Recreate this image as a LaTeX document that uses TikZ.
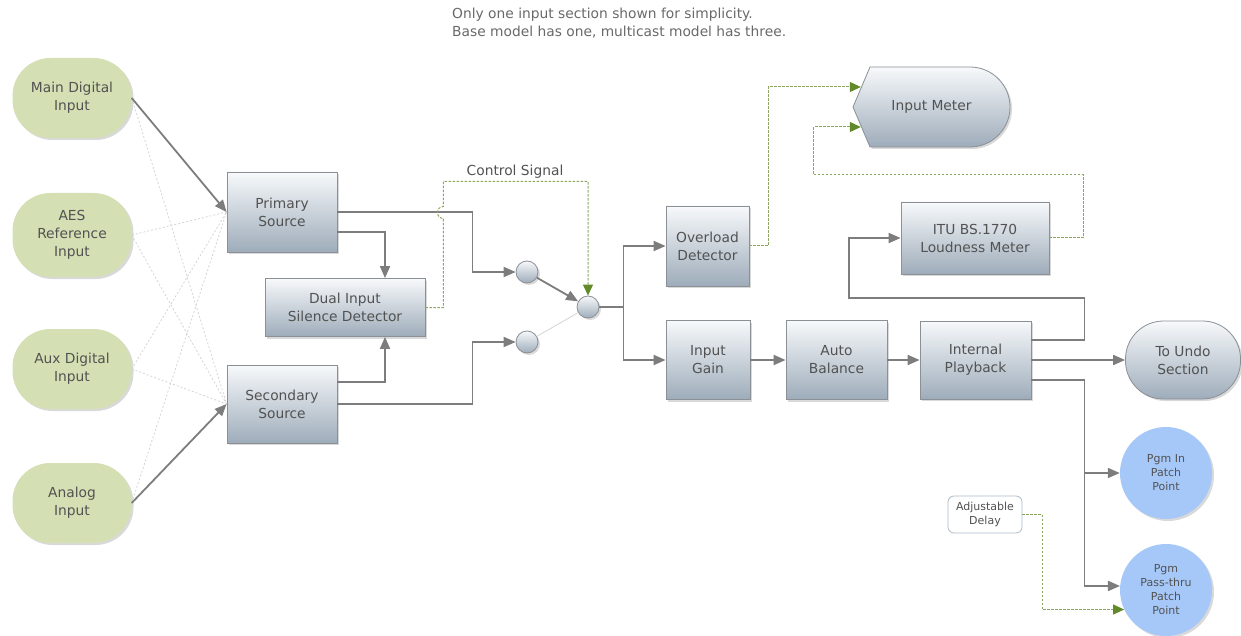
\documentclass[tikz,border=0pt]{standalone}
\usepackage{fontspec}
\setmainfont{DejaVu Sans}
\usetikzlibrary{arrows.meta,shadows,calc}
\definecolor{boxtop}{RGB}{247,249,251}
\definecolor{boxbot}{RGB}{158,172,186}
\definecolor{boxline}{RGB}{138,144,150}
\definecolor{inpgreen}{RGB}{212,224,180}
\definecolor{pinblue}{RGB}{166,200,248}
\definecolor{conn}{RGB}{125,125,125}
\definecolor{ctrl}{RGB}{140,166,96}
\definecolor{ctrltip}{RGB}{98,138,40}
\definecolor{txt}{RGB}{82,82,82}
\definecolor{notetxt}{RGB}{105,105,105}
\definecolor{faint}{RGB}{212,212,212}
\definecolor{dlyline}{RGB}{172,188,202}
\tikzset{
  base/.style={font=\fontsize{13.8}{18}\selectfont, text=txt, align=center, inner sep=0pt},
  shad/.style={drop shadow={shadow xshift=2pt,shadow yshift=-2pt,opacity=0.3}},
  blk/.style={base, rectangle, draw=boxline, line width=0.8pt, top color=boxtop, bottom color=boxbot, shad},
  inp/.style={base, rectangle, rounded corners=38pt, fill=inpgreen, minimum width=119pt, minimum height=80pt, shad},
  sw/.style={circle, draw=boxline, line width=0.8pt, top color=boxtop, bottom color=boxbot, minimum size=22pt, inner sep=0pt, shad},
  pinpt/.style={base, circle, fill=pinblue, minimum size=92pt, font=\fontsize{11}{14}\selectfont, shad},
  dly/.style={base, rectangle, rounded corners=6pt, draw=dlyline, line width=0.8pt, fill=white, minimum width=74pt, minimum height=37pt, font=\fontsize{11}{13.5}\selectfont},
  flow/.style={draw=conn, line width=1.8pt, -{Triangle[length=12pt,width=10pt]}},
  ctl/.style={draw=ctrl, line width=1pt, dash pattern=on 2.5pt off 1.5pt, -{Triangle[length=11pt,width=10pt,color=ctrltip]}},
  faintline/.style={draw=faint, line width=0.8pt, dash pattern=on 2pt off 2pt},
}
\begin{document}
\begin{tikzpicture}[x=1pt,y=-1pt]
\useasboundingbox (0,0) rectangle (1241,636);

% note
\node[base, text=notetxt, anchor=west, align=left] (note) at (452,23) {Only one input section shown for simplicity.\\Base model has one, multicast model has three.};

% inputs
\node[inp] (mdi) at (72,98) {Main Digital\\Input};
\node[inp, minimum height=84pt] (aes) at (72,235) {AES\\Reference\\Input};
\node[inp] (aux) at (72,369) {Aux Digital\\Input};
\node[inp] (ana) at (72,503) {Analog\\Input};

% sources
\node[blk, minimum width=110pt, minimum height=80pt] (ps) at (282,212) {Primary\\Source};
\node[blk, minimum width=160pt, minimum height=58pt] (dual) at (345,307.5) {Dual Input\\Silence Detector};
\node[blk, minimum width=110pt, minimum height=78pt] (ss) at (282,404) {Secondary\\Source};

% switch circles
\node[sw] (c1) at (527,272) {};
\node[sw] (c2) at (527,342) {};
\node[sw] (c3) at (588,307) {};

\node[base] (cs) at (515,172) {Control Signal};

% processing chain
\node[blk, minimum width=83pt, minimum height=80pt] (od) at (707.5,246) {Overload\\Detector};
\node[blk, minimum width=84pt, minimum height=79pt] (ig) at (708,360) {Input\\Gain};
\node[blk, minimum width=101pt, minimum height=79pt] (ab) at (836.5,360) {Auto\\Balance};
\node[blk, minimum width=111pt, minimum height=78pt] (ip) at (975.5,360) {Internal\\Playback};
\node[blk, rounded corners=38pt, minimum width=115pt, minimum height=78pt] (undo) at (1183,360) {To Undo\\Section};
\node[blk, minimum width=148pt, minimum height=72pt] (itu) at (975,238) {ITU BS.1770\\Loudness Meter};

% input meter
\path[draw=boxline, line width=0.8pt, top color=boxtop, bottom color=boxbot, shad]
  (870,67) -- (970,67) arc[start angle=-90,end angle=90,radius=40] -- (870,147) -- (853,107) -- cycle;
\node[base, minimum width=157pt, minimum height=80pt] (im) at (931.5,107) {Input Meter};

% patch points
\node[pinpt] (pin) at (1166,473) {Pgm In\\Patch\\Point};
\node[pinpt] (pass) at (1166,590) {Pgm\\Pass-thru\\Patch\\Point};
\node[dly] (ad) at (985,514.5) {Adjustable\\Delay};

% input connectors
\draw[faintline] (mdi.east) -- (ss.west);
\draw[faintline] (aes.east) -- (ps.west);
\draw[faintline] (aes.east) -- (ss.west);
\draw[faintline] (aux.east) -- (ps.west);
\draw[faintline] (aux.east) -- (ss.west);
\draw[faintline] (ana.east) -- (ps.west);
\draw[flow] (mdi.east) -- (ps.west);
\draw[flow] (ana.east) -- (ss.west);

% sources to switch
\draw[flow] (ps.east) -- ++(135,0) |- (c1.west);
\draw[flow] ($(ps.east)+(0,20)$) -| ($(dual.north)+(40,0)$);
\draw[flow] ($(ss.east)+(0,-22)$) -| ($(dual.south)+(40,0)$);
\draw[flow] (ss.east) -- ++(135,0) |- (c2.west);
\draw[flow] (c1) -- (c3);
\draw[draw=faint, line width=0.8pt] (c2) -- (c3);

% control signal
\draw[ctl] (dual.east) -- ++(18,0) -- ++(0,-89) arc[start angle=90,end angle=270,radius=6] -- ++(0,-25) -| (c3.north);

% after switch
\draw[flow] (c3.east) -- ++(24,0) |- (od.west);
\draw[flow] (c3.east) -- ++(24,0) |- (ig.west);
\draw[flow] (ig) -- (ab);
\draw[flow] (ab) -- (ip);
\draw[flow] (ip) -- (undo);

% loudness loop
\draw[flow] ($(ip.east)+(0,-20)$) -- ++(53,0) |- ($(itu.west)+(-52,60)$) |- (itu.west);

% patch outputs
\draw[flow] ($(ip.east)+(0,20)$) -- ++(53,0) |- (pin.west);
\draw[flow] ($(ip.east)+(0,20)$) -- ++(53,0) |- (pass.175);

% meter feeds
\draw[ctl] (od.east) -- ++(19,0) |- ($(im.west)+(8,-20)$);
\draw[ctl] (itu.east) -- ++(34,0) |- ($(im.west)+(-39,68)$) |- ($(im.west)+(8,20)$);

% delay
\draw[ctl] (ad.east) -- ++(20,0) |- (pass.205);
\end{tikzpicture}
\end{document}
